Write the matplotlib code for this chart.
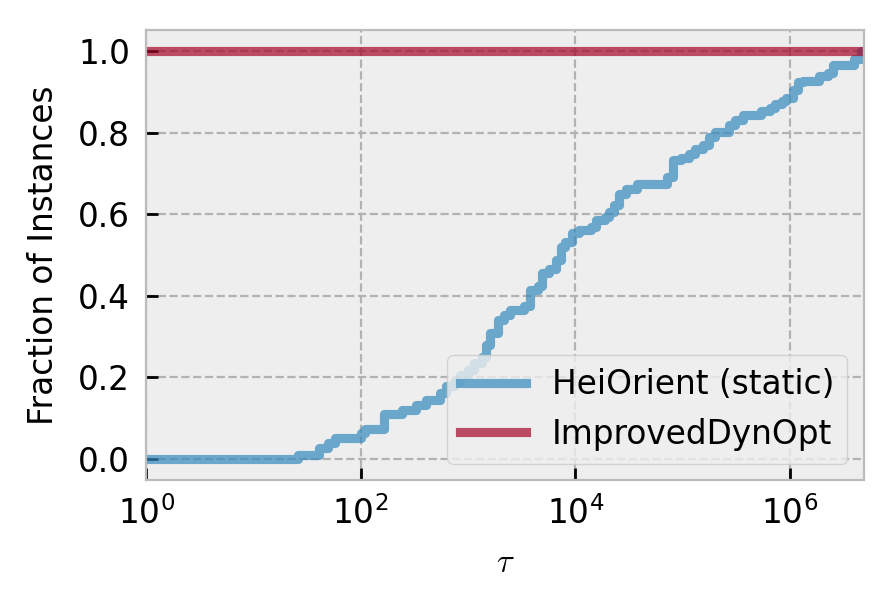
import numpy as np
import matplotlib
matplotlib.use("Agg")
import matplotlib.pyplot as plt
from matplotlib.ticker import NullLocator

plt.style.use("bmh")

# performance profile (tau, fraction of instances)
tau_heiorient = [1, 26, 41, 50, 58, 100, 110, 166, 245, 331, 407, 550, 631, 741,
                 851, 1000, 1148, 1349, 1479, 1622, 1905, 2188, 2455, 3311, 3802,
                 4467, 4898, 5754, 6607, 7413, 8128, 9333, 10965, 14125, 15488,
                 19055, 20893, 22909, 25704, 29512, 38019, 72444, 81283, 97724,
                 114815, 131826, 154882, 177828, 199526, 269153, 309030, 363078,
                 537032, 660693, 724436, 851138, 933254, 1071519, 1202264,
                 1318257, 1862087, 2290868, 2511886, 3981072, 4570882]
frac_heiorient = [0.0, 0.011, 0.027, 0.039, 0.051, 0.064, 0.073, 0.110, 0.121,
                  0.133, 0.145, 0.161, 0.178, 0.190, 0.206, 0.219, 0.235, 0.251,
                  0.280, 0.308, 0.341, 0.353, 0.365, 0.374, 0.414, 0.423, 0.455,
                  0.467, 0.488, 0.520, 0.533, 0.553, 0.561, 0.569, 0.586, 0.594,
                  0.606, 0.622, 0.651, 0.663, 0.674, 0.692, 0.732, 0.737, 0.749,
                  0.761, 0.769, 0.790, 0.802, 0.818, 0.830, 0.844, 0.853, 0.861,
                  0.871, 0.879, 0.886, 0.904, 0.924, 0.928, 0.940, 0.946, 0.965,
                  0.981, 1.0]
tau_improved = [1, 4.9e6]
frac_improved = [1.0, 1.0]
tau_max = 4.9e6

labels = ["HeiOrient (static)", "ImprovedDynOpt"]

fs = 11.8
fig = plt.figure(figsize=(4.48, 3.055), dpi=200)
ax = fig.add_axes([0.163, 0.214, 0.801, 0.737])

lw = 3.3
ax.plot(tau_heiorient + [tau_max], frac_heiorient + [frac_heiorient[-1]],
        drawstyle="steps-post", color="#348ABD", alpha=0.7, lw=lw, label=labels[0])
ax.plot(tau_improved, frac_improved, color="#A60628", alpha=0.7, lw=lw, label=labels[1])

ax.set_xscale("log")
ax.set_xlim(1, tau_max)
ax.set_ylim(-0.052, 1.052)
ax.set_xticks([1, 1e2, 1e4, 1e6])
ax.xaxis.set_minor_locator(NullLocator())
ax.set_yticks([0.0, 0.2, 0.4, 0.6, 0.8, 1.0])
ax.tick_params(axis="both", which="major", direction="in", length=4.2, width=1.0,
               labelsize=fs, pad=5.8, color="black")
ax.grid(True, color="#b2b2b2", linestyle="--", linewidth=0.8)

ax.set_xlabel(r"$\tau$", fontsize=fs, labelpad=5.5)
ax.set_ylabel("Fraction of Instances", fontsize=fs, labelpad=6.5)

ax.legend(loc="lower right", fontsize=fs)

fig.savefig("out.png", dpi=200)
